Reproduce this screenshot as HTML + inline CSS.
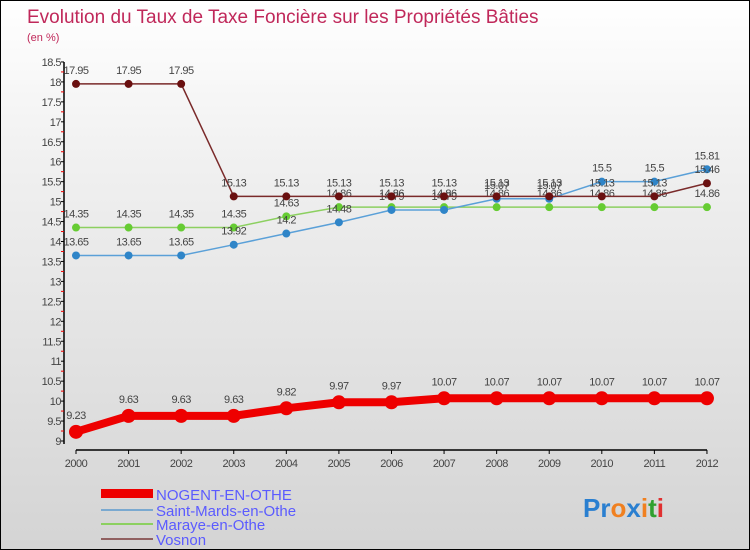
<!DOCTYPE html>
<html><head><meta charset="utf-8"><style>
body{margin:0}
#c{width:748px;height:548px;border:1px solid #000;background:linear-gradient(#ffffff,#f0f0f0 30%,#d4d4d4);position:relative;overflow:hidden;font-family:"Liberation Sans",sans-serif}
text{font-family:"Liberation Sans",sans-serif}
</style></head><body>
<div id="c">
<svg id="s" width="748" height="548">
<text x="26" y="22" font-size="19" fill="#c0285a">Evolution du Taux de Taxe Foncière sur les Propriétés Bâties</text>
<text x="26" y="40" font-size="11" fill="#c0285a">(en %)</text>
<g id="axes"></g><g id="series"></g>
<g>
<rect x="100" y="488" width="52" height="9" fill="#e00"/>
<text x="155" y="499" font-size="15" fill="#5b5bff">NOGENT-EN-OTHE</text>
<rect x="100" y="508" width="52" height="2" fill="#7aa9d0"/>
<text x="155" y="515" font-size="15" fill="#5b5bff">Saint-Mards-en-Othe</text>
<rect x="100" y="522" width="52" height="2" fill="#8cd060"/>
<text x="155" y="529" font-size="15" fill="#5b5bff">Maraye-en-Othe</text>
<rect x="100" y="537" width="52" height="2" fill="#906060"/>
<text x="155" y="544" font-size="15" fill="#5b5bff">Vosnon</text>
</g>
<g font-size="26" font-weight="bold">
<text x="582" y="516"><tspan fill="#2a7fd0">Pr</tspan><tspan fill="#f08020">o</tspan><tspan fill="#2a7fd0">x</tspan><tspan fill="#f08020">i</tspan><tspan fill="#30a030">t</tspan><tspan fill="#e03030">i</tspan></text>
</g>
</svg>
</div>
<script>
const years=[2000,2001,2002,2003,2004,2005,2006,2007,2008,2009,2010,2011,2012];
const nogent=[9.23,9.63,9.63,9.63,9.82,9.97,9.97,10.07,10.07,10.07,10.07,10.07,10.07];
const saintMards=[13.65,13.65,13.65,13.92,14.2,14.48,14.79,14.79,15.07,15.07,15.5,15.5,15.81];
const maraye=[14.35,14.35,14.35,14.35,14.63,14.86,14.86,14.86,14.86,14.86,14.86,14.86,14.86];
const vosnon=[17.95,17.95,17.95,15.13,15.13,15.13,15.13,15.13,15.13,15.13,15.13,15.13,15.46];
const yTicks=[9,9.5,10,10.5,11,11.5,12,12.5,13,13.5,14,14.5,15,15.5,16,16.5,17,17.5,18,18.5];
const NS='http://www.w3.org/2000/svg';
const X=i=>75+i*52.58;
const Y=v=>440-(v-9)*39.9;
function mk(t,a,p){const e=document.createElementNS(NS,t);for(const k in a)e.setAttribute(k,a[k]);p.appendChild(e);return e;}
const ax=document.getElementById('axes');
let l=mk('line',{x1:63,y1:Y(18.5),x2:63,y2:443,stroke:'#000','stroke-width':1.5},ax);


l=mk('line',{x1:75,y1:449,x2:706,y2:449,stroke:'#000','stroke-width':1.5},ax);


yTicks.forEach(v=>{
 mk('line',{x1:60,y1:Y(v),x2:63,y2:Y(v),stroke:'#000'},ax);
 if(v<18.5)mk('line',{x1:60,y1:Y(v+0.25),x2:63,y2:Y(v+0.25),stroke:'#e00'},ax);
 const t=mk('text',{x:60,y:Y(v)+4,'font-size':11,fill:'#444','text-anchor':'end','letter-spacing':'-0.5'},ax);
 t.textContent=String(v);
 
 
});
years.forEach((y,i)=>{
 mk('line',{x1:X(i),y1:449,x2:X(i),y2:453,stroke:'#000'},ax);
 const t=mk('text',{x:X(i),y:466,'font-size':11,fill:'#444','text-anchor':'middle','letter-spacing':'-0.5'},ax);
 t.textContent=String(y);
 
 
});
const sg=document.getElementById('series');
function series(d,col,dot,w,r,name){
 const g=mk('g',{},sg);
 
 
 const p=mk('polyline',{points:d.map((v,i)=>X(i)+','+Y(v)).join(' '),fill:'none',stroke:col,'stroke-width':w},g);
 
 
 d.forEach((v,i)=>{
  const c=mk('circle',{cx:X(i),cy:Y(v),r:r,fill:dot},g);
  
  
  const t=mk('text',{x:X(i),y:Y(v)-(r+6),'font-size':11,fill:'#444','text-anchor':'middle','letter-spacing':'-0.5'},g);
  t.textContent=String(v);
  
  
 });
}
series(maraye,'#8cd060','#66cc33',1.5,4,'series-maraye');
series(saintMards,'#5aa0d8','#2f85c8',1.5,4,'series-saint-mards');
series(vosnon,'#7a2a2a','#6a1010',1.5,4,'series-vosnon');
series(nogent,'#e00','#e00',8,7,'series-nogent');
</script>
</body></html>
